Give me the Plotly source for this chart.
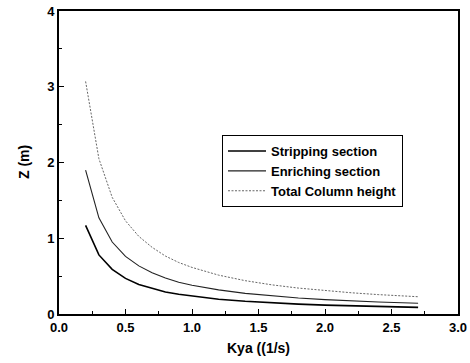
import plotly.graph_objects as go

kya = [0.2, 0.3, 0.4, 0.5, 0.6, 0.7, 0.8, 0.9, 1.0, 1.2, 1.4, 1.6, 1.8, 2.0, 2.2, 2.4, 2.7]
stripping = [1.17, 0.78, 0.59, 0.47, 0.39, 0.335, 0.29, 0.26, 0.235, 0.195, 0.168, 0.147, 0.13, 0.117, 0.107, 0.098, 0.087]
enriching = [1.9, 1.27, 0.95, 0.76, 0.635, 0.545, 0.475, 0.42, 0.38, 0.318, 0.272, 0.238, 0.212, 0.19, 0.173, 0.158, 0.141]
total = [3.07, 2.05, 1.54, 1.23, 1.025, 0.88, 0.765, 0.68, 0.615, 0.513, 0.44, 0.385, 0.342, 0.307, 0.28, 0.256, 0.228]

x_ticks = [0.0, 0.5, 1.0, 1.5, 2.0, 2.5, 3.0]
x_tick_labels = ["0.0", "0.5", "1.0", "1.5", "2.0", "2.5", "3.0"]
y_ticks = [0, 1, 2, 3, 4]

FAM = "Liberation Sans, Arial, sans-serif"

fig = go.Figure()
fig.add_trace(go.Scatter(x=kya, y=stripping, mode="lines", name="<b>Stripping section</b>",
                         line=dict(color="black", width=1.6)))
fig.add_trace(go.Scatter(x=kya, y=enriching, mode="lines", name="<b>Enriching section</b>",
                         line=dict(color="#222222", width=1.1)))
fig.add_trace(go.Scatter(x=kya, y=total, mode="lines", name="<b>Total Column height</b>",
                         line=dict(color="#666666", width=1, dash="2px,1.5px")))

L, R, T, B = 59, 12, 11, 49
W, H = 470, 363
plot_w = W - L - R
plot_h = H - T - B

fig.update_layout(
    width=W, height=H,
    margin=dict(l=L, r=R, t=T, b=B, autoexpand=False),
    plot_bgcolor="white", paper_bgcolor="white",
    font=dict(family=FAM, size=12, color="black"),
    showlegend=True,
    legend=dict(x=(222 - L) / plot_w, y=(H - B - 135) / plot_h, xanchor="left", yanchor="top",
                bordercolor="black", borderwidth=1, bgcolor="white",
                font=dict(family=FAM, size=13, color="black"),
                tracegroupgap=0, itemwidth=38),
)
fig.add_annotation(text="<b>Kya ((1/s)</b>", x=(258 - L) / plot_w, y=(H - B - 348) / plot_h,
                   xref="paper", yref="paper", showarrow=False,
                   font=dict(family=FAM, size=14, color="black"),
                   xanchor="center", yanchor="middle")
fig.add_annotation(text="<b>Z (m)</b>", x=(24 - L) / plot_w, y=(H - B - 162) / plot_h,
                   xref="paper", yref="paper", showarrow=False, textangle=-90,
                   font=dict(family=FAM, size=14, color="black"),
                   xanchor="center", yanchor="middle")

fig.update_xaxes(range=[0, 3], tickvals=x_ticks, ticktext=["<b>%s</b>" % t for t in x_tick_labels],
                 ticks="inside", ticklen=5, tickcolor="black",
                 minor=dict(dtick=0.25, ticks="inside", ticklen=3, tickcolor="black"),
                 showline=True, linecolor="black", linewidth=2, mirror=True,
                 showgrid=False, zeroline=False, automargin=False,
                 tickfont=dict(family=FAM, size=13, color="black"))
fig.update_yaxes(range=[0, 4], tickvals=y_ticks, ticktext=["<b>%d</b>" % t for t in y_ticks],
                 ticks="inside", ticklen=5, tickcolor="black",
                 minor=dict(dtick=0.5, ticks="inside", ticklen=3, tickcolor="black"),
                 showline=True, linecolor="black", linewidth=2, mirror=True,
                 showgrid=False, zeroline=False, automargin=False,
                 tickfont=dict(family=FAM, size=13, color="black"))

fig.write_html("out.html", config={"displayModeBar": False},
               post_script="document.body.style.margin='0';document.body.style.padding='0';")
